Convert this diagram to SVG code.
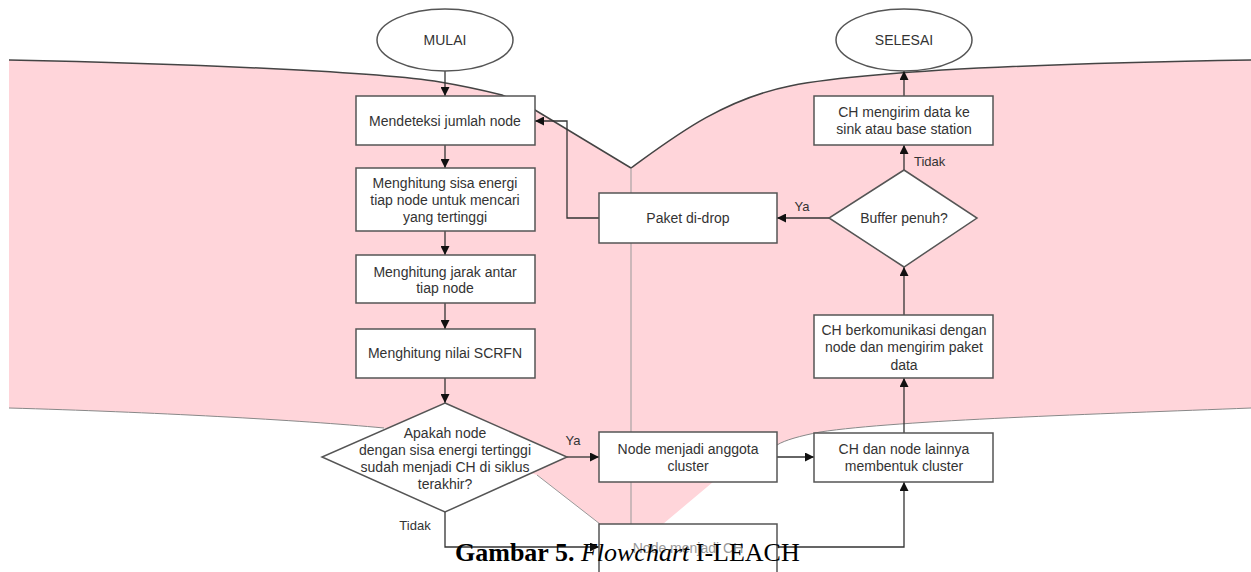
<svg xmlns="http://www.w3.org/2000/svg" width="1251" height="572" viewBox="0 0 1251 572">
<style>
.box{fill:#fff;stroke:#555;stroke-width:1.5}
.t{font-family:"Liberation Sans",Arial,sans-serif;font-size:14px;fill:#333;text-anchor:middle}
.lbl{font-family:"Liberation Sans",Arial,sans-serif;font-size:13px;fill:#333}
.c{fill:none;stroke:#333;stroke-width:1.3}
</style>
<defs>
<marker id="ah" viewBox="0 0 10 10" refX="10" refY="5" markerWidth="9" markerHeight="9" markerUnits="userSpaceOnUse" orient="auto">
<path d="M0,0 L10,5 L0,10 Z" fill="#111"/>
</marker>
</defs>
<rect width="1251" height="572" fill="#fff"/>
<g id="background">
<path d="M9,60 C200,64 380,72 440,82 C470,87 490,92 502,95 L535,110 L631,168 C670,140 720,100 790,86 C850,74 1000,64 1251,60 L1251,408 C1100,414 900,420 820,432 C800,436 785,440 777,445 L713,482 L663,524 L600,524 L537,475 L384,428 C300,420 150,412 9,408 Z" fill="#ffd5da"/>
<path d="M9,60 C200,64 380,72 440,82 C470,87 490,92 502,95 L535,110 L631,168 C670,140 720,100 790,86 C850,74 1000,64 1251,60" fill="none" stroke="#444" stroke-width="1.5"/>
<path d="M1251,408 C1100,414 900,420 820,432 C800,436 785,440 777,445" fill="none" stroke="#888" stroke-width="1"/>
<path d="M384,428 C300,420 150,412 9,408" fill="none" stroke="#888" stroke-width="1"/>
<path d="M537,475 L600,524" fill="none" stroke="#999" stroke-width="1"/>
<path d="M631,168 L631,572" fill="none" stroke="#999" stroke-width="1"/>
</g>
<g id="connectors">
<path class="c" d="M445,71 L445,96" marker-end="url(#ah)"/>
<path class="c" d="M445,145 L445,168" marker-end="url(#ah)"/>
<path class="c" d="M445,231 L445,255" marker-end="url(#ah)"/>
<path class="c" d="M445,303 L445,329" marker-end="url(#ah)"/>
<path class="c" d="M445,378 L445,403" marker-end="url(#ah)"/>
<path class="c" d="M567,457 L599,457" marker-end="url(#ah)"/>
<path class="c" d="M445,512 L445,547 L599,547" marker-end="url(#ah)"/>
<path class="c" d="M777,457 L814,457" marker-end="url(#ah)"/>
<path class="c" d="M777,547 L904,547 L904,482" marker-end="url(#ah)"/>
<path class="c" d="M904,433 L904,378" marker-end="url(#ah)"/>
<path class="c" d="M904,315 L904,267" marker-end="url(#ah)"/>
<path class="c" d="M904,170 L904,145" marker-end="url(#ah)"/>
<path class="c" d="M904,96 L904,71" marker-end="url(#ah)"/>
<path class="c" d="M829,218 L777,218" marker-end="url(#ah)"/>
<path class="c" d="M599,218 L567,218 L567,121 L535,121" marker-end="url(#ah)"/>
<text class="lbl" x="573" y="445" text-anchor="middle">Ya</text>
<text class="lbl" x="415" y="530" text-anchor="middle">Tidak</text>
<text class="lbl" x="802" y="211" text-anchor="middle">Ya</text>
<text class="lbl" x="914" y="166">Tidak</text>
</g>
<g id="mulai">
<ellipse class="box" cx="445" cy="40" rx="68" ry="31"/>
<text class="t" x="445" y="45">MULAI</text>
</g>
<g id="mendeteksi">
<rect class="box" x="356" y="96" width="179" height="49"/>
<text class="t" x="445" y="126">Mendeteksi jumlah node</text>
</g>
<g id="sisa-energi">
<rect class="box" x="356" y="168" width="179" height="63"/>
<text class="t" x="445" y="188">Menghitung sisa energi</text>
<text class="t" x="445" y="205">tiap node untuk mencari</text>
<text class="t" x="445" y="222">yang tertinggi</text>
</g>
<g id="jarak">
<rect class="box" x="356" y="255" width="179" height="48"/>
<text class="t" x="445" y="277">Menghitung jarak antar</text>
<text class="t" x="445" y="293">tiap node</text>
</g>
<g id="scrfn">
<rect class="box" x="356" y="329" width="179" height="49"/>
<text class="t" x="445" y="358">Menghitung nilai SCRFN</text>
</g>
<g id="cek-ch">
<polygon class="box" points="445,403 567,457 445,512 322,457"/>
<text class="t" x="445" y="438">Apakah node</text>
<text class="t" x="445" y="455">dengan sisa energi tertinggi</text>
<text class="t" x="445" y="472">sudah menjadi CH di siklus</text>
<text class="t" x="445" y="489">terakhir?</text>
</g>
<g id="anggota">
<rect class="box" x="599" y="432" width="178" height="50"/>
<text class="t" x="688" y="454">Node menjadi anggota</text>
<text class="t" x="688" y="471">cluster</text>
</g>
<g id="menjadi-ch">
<rect class="box" x="599" y="524" width="178" height="52"/>
<text class="t" x="688" y="553" style="fill:#999">Node menjadi CH</text>
</g>
<g id="bentuk-cluster">
<rect class="box" x="814" y="433" width="179" height="49"/>
<text class="t" x="904" y="454">CH dan node lainnya</text>
<text class="t" x="904" y="471">membentuk cluster</text>
</g>
<g id="komunikasi">
<rect class="box" x="814" y="315" width="179" height="63"/>
<text class="t" x="904" y="335">CH berkomunikasi dengan</text>
<text class="t" x="904" y="352">node dan mengirim paket</text>
<text class="t" x="904" y="370">data</text>
</g>
<g id="buffer">
<polygon class="box" points="904,170 977,218 904,267 829,218"/>
<text class="t" x="904" y="223">Buffer penuh?</text>
</g>
<g id="paket-drop">
<rect class="box" x="599" y="193" width="178" height="50"/>
<text class="t" x="688" y="223">Paket di-drop</text>
</g>
<g id="kirim-data">
<rect class="box" x="814" y="96" width="179" height="49"/>
<text class="t" x="904" y="117">CH mengirim data ke</text>
<text class="t" x="904" y="134">sink atau base station</text>
</g>
<g id="selesai">
<ellipse class="box" cx="904" cy="40" rx="68" ry="31"/>
<text class="t" x="904" y="45">SELESAI</text>
</g>
<g id="caption">
<text x="455" y="561" font-family="'Liberation Serif','Times New Roman',serif" font-size="26" fill="#000"><tspan font-weight="bold">Gambar 5.</tspan> <tspan font-style="italic">Flowchart</tspan> I-LEACH</text>
</g>
</svg>
